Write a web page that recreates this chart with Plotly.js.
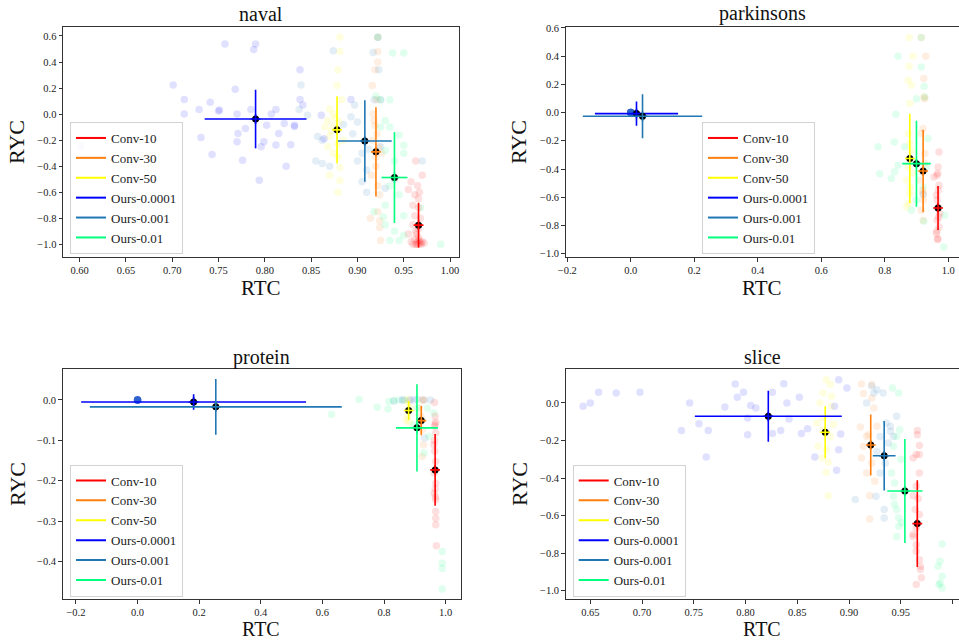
<!DOCTYPE html>
<html><head><meta charset="utf-8">
<script src="https://cdn.plot.ly/plotly-3.0.1.min.js"></script>
<style>html,body{margin:0;padding:0;background:#fff}#chart{width:959px;height:641px}</style>
</head><body><div id="chart"></div>
<script>
const methods = ['Conv-10','Conv-30','Conv-50','Ours-0.0001','Ours-0.001','Ours-0.01'];
const datasets = ['naval','parkinsons','protein','slice'];
const xTitle = 'RTC', yTitle = 'RYC';

// ---------- naval ----------
const navalMeanRTC = [0.966, 0.920, 0.878, 0.790, 0.908, 0.940];
const navalMeanRYC = [-0.853, -0.290, -0.121, -0.038, -0.207, -0.487];
const navalStdRTC  = [0.002, 0.002, 0.002, 0.055, 0.029, 0.014];
const navalStdRYC  = [0.172, 0.343, 0.258, 0.225, 0.313, 0.349];
const navalConv10 = [[0.963,-0.36],[0.958,-0.52],[0.965,-0.55],[0.955,-0.58],[0.962,-0.62],[0.966,-0.65],[0.960,-0.70],[0.966,-0.72],[0.962,-0.78],[0.968,-0.80],[0.960,-0.85],[0.966,-0.88],[0.964,-0.92],[0.962,-0.96],[0.965,-0.98],[0.968,-0.99],[0.963,-1.0],[0.966,-1.0],[0.969,-1.0],[0.960,-1.0],[0.972,-0.99],[0.967,-0.97],[0.958,-0.98],[0.964,-1.0],[0.970,-0.98],[0.966,-0.95],[0.963,-0.90],[0.967,-0.60],[0.955,-0.92],[0.970,-0.47]];
const navalConv30 = [[0.922,0.59],[0.922,0.48],[0.922,0.40],[0.919,0.34],[0.916,0.22],[0.921,0.11],[0.917,0.0],[0.919,-0.09],[0.916,-0.20],[0.920,-0.33],[0.915,-0.47],[0.924,-0.62],[0.922,-0.75],[0.914,-0.80],[0.924,-0.87],[0.925,-0.97],[0.924,-0.82],[0.921,-0.15],[0.918,-0.05],[0.923,-0.25],[0.920,-0.40],[0.922,-0.55],[0.926,-0.30]];
const navalConv50 = [[0.881,0.59],[0.881,0.48],[0.879,0.34],[0.878,0.22],[0.883,0.11],[0.870,0.04],[0.874,0.0],[0.868,-0.05],[0.874,-0.09],[0.865,-0.10],[0.870,-0.17],[0.868,-0.25],[0.874,-0.30],[0.879,-0.33],[0.881,-0.41],[0.881,-0.51],[0.879,-0.60],[0.870,-0.47],[0.878,-0.23],[0.876,-0.03],[0.885,-0.20],[0.872,-0.13],[0.880,-0.06]];
const navalOurs0001 = [[0.701,0.223],[0.713,0.113],[0.713,0.0],[0.729,0.036],[0.731,-0.179],[0.741,0.092],[0.743,-0.310],[0.750,0.023],[0.751,0.031],[0.757,0.538],[0.768,0.190],[0.770,0.0],[0.770,-0.213],[0.771,-0.149],[0.776,-0.354],[0.779,-0.110],[0.785,0.036],[0.788,0.497],[0.790,0.538],[0.794,-0.508],[0.796,-0.251],[0.799,-0.213],[0.802,-0.085],[0.807,0.0],[0.812,0.036],[0.815,-0.149],[0.812,-0.238],[0.821,-0.072],[0.823,-0.400],[0.828,-0.236],[0.832,-0.085],[0.838,0.341],[0.838,0.113],[0.841,0.069],[0.864,-0.190],[0.861,-0.008],[0.893,0.113],[0.601,-0.246],[0.832,-0.095]];
const navalOurs001 = [[0.922,0.59],[0.874,0.487],[0.917,0.474],[0.923,0.341],[0.839,0.223],[0.837,0.036],[0.846,-0.008],[0.857,-0.172],[0.862,-0.200],[0.855,-0.36],[0.862,-0.38],[0.870,-0.40],[0.885,-0.08],[0.893,-0.02],[0.900,-0.06],[0.895,-0.15],[0.905,-0.30],[0.900,-0.36],[0.910,-0.43],[0.905,-0.52],[0.910,-0.60],[0.930,-0.57],[0.925,-0.25],[0.918,0.11],[0.925,0.11],[0.940,-0.50],[0.970,-0.36],[0.912,-0.27],[0.897,0.07]];
const navalOurs01 = [[0.922,0.59],[0.938,0.47],[0.950,0.47],[0.920,0.14],[0.935,0.11],[0.925,0.11],[0.930,-0.05],[0.935,-0.10],[0.945,-0.16],[0.950,-0.24],[0.930,-0.28],[0.940,-0.36],[0.935,-0.55],[0.945,-0.62],[0.930,-0.70],[0.950,-0.78],[0.930,-0.85],[0.940,-0.90],[0.950,-0.93],[0.935,-0.97],[0.945,-0.97],[0.990,-1.0],[0.968,-0.72],[0.925,-0.10],[0.950,-0.30],[0.928,-0.79],[0.918,-0.75]];

// ---------- parkinsons ----------
const parkMeanRTC = [0.968, 0.921, 0.879, 0.018, 0.037, 0.900];
const parkMeanRYC = [-0.676, -0.414, -0.326, -0.007, -0.026, -0.362];
const parkStdRTC  = [0.002, 0.002, 0.002, 0.131, 0.188, 0.045];
const parkStdRYC  = [0.156, 0.292, 0.317, 0.086, 0.156, 0.305];
const parkConv10 = [[0.971,-0.28],[0.968,-0.385],[0.965,-0.444],[0.971,-0.515],[0.963,-0.586],[0.968,-0.669],[0.965,-0.764],[0.971,-0.811],[0.963,-0.858],[0.968,-0.894],[0.955,-0.456],[0.973,-0.716],[0.966,-0.62],[0.970,-0.74],[0.964,-0.84],[0.969,-0.55],[0.966,-0.90],[0.967,-0.43]];
const parkConv30 = [[0.915,0.532],[0.929,0.40],[0.923,0.241],[0.926,0.099],[0.921,-0.113],[0.915,-0.149],[0.926,-0.29],[0.910,-0.48],[0.921,-0.574],[0.915,-0.693],[0.921,-0.764],[0.926,-0.36],[0.920,-0.55],[0.922,-0.62],[0.924,0.11],[0.918,-0.42]];
const parkConv50 = [[0.877,0.532],[0.889,0.40],[0.877,0.329],[0.874,0.229],[0.884,0.194],[0.879,0.064],[0.874,-0.149],[0.879,-0.22],[0.874,-0.385],[0.869,-0.48],[0.879,-0.574],[0.874,-0.645],[0.869,-0.67],[0.884,-0.267],[0.889,-0.43],[0.880,-0.53]];
const parkOurs0001 = [[0,0],[0,0],[0,0],[0,0],[0,0],[0,0],[0,0],[0,0],[0,0],[0,0]];
const parkOurs001 = [[0,0],[0,0],[0,0],[0,0],[0,0],[0,0],[0,0],[0,0],[0,0],[0,0],[0.921,-0.58]];
const parkOurs01 = [[0.842,0.40],[0.915,0.532],[0.915,0.324],[0.900,0.099],[0.924,0.187],[0.835,-0.012],[0.830,-0.208],[0.779,-0.243],[0.784,-0.433],[0.821,-0.468],[0.831,-0.42],[0.842,-0.373],[0.863,-0.243],[0.936,-0.184],[0.931,-0.385],[0.884,-0.693],[0.989,-0.728],[0.986,-0.953],[0.921,-0.527],[0.900,-0.62],[0.923,-0.77],[0.926,0.11]];

// ---------- protein ----------
const protMeanRTC = [0.966, 0.921, 0.880, 0.182, 0.254, 0.907];
const protMeanRYC = [-0.173, -0.051, -0.026, -0.005, -0.017, -0.069];
const protStdRTC  = [0.003, 0.003, 0.003, 0.365, 0.409, 0.068];
const protStdRYC  = [0.089, 0.036, 0.023, 0.019, 0.069, 0.108];
const protConv10 = [[0.964,-0.006],[0.966,-0.040],[0.968,-0.055],[0.964,-0.065],[0.968,-0.082],[0.962,-0.111],[0.965,-0.127],[0.968,-0.152],[0.963,-0.181],[0.968,-0.206],[0.963,-0.231],[0.968,-0.247],[0.968,-0.276],[0.968,-0.293],[0.968,-0.309],[0.970,-0.361],[0.966,-0.060],[0.964,-0.100],[0.966,-0.220],[0.967,-0.240]];
const protConv30 = [[0.924,0.0],[0.914,-0.020],[0.924,-0.074],[0.928,-0.111],[0.924,-0.140],[0.919,-0.040],[0.928,0.0]];
const protConv50 = [[0.870,0.0],[0.881,0.002],[0.876,-0.040],[0.881,-0.055],[0.886,-0.020],[0.878,-0.007],[0.872,-0.050]];
const protOurs0001 = [[0,0],[0,0],[0,0],[0,0],[0,0],[0,0],[0,0],[0,0],[0,0],[0.860,0.0],[0.885,0.0]];
const protOurs001 = [[0,0],[0,0],[0,0],[0,0],[0,0],[0,0],[0,0],[0,0],[0.908,0.002],[0.930,0.0],[0.951,0.0],[0.932,-0.094],[0.897,0.0],[0.832,-0.003]];
const protOurs01 = [[0.719,0.001],[0.630,-0.036],[0.778,-0.018],[0.813,-0.022],[0.816,-0.004],[0.832,-0.001],[0.849,0.0],[0.865,0.0],[0.941,-0.020],[0.962,-0.032],[0.930,-0.131],[0.946,-0.090],[0.919,-0.053],[0.897,-0.061],[0.989,-0.375],[0.989,-0.404],[0.989,-0.417],[0.989,-0.468],[0.908,-0.020]];

// ---------- slice ----------
const sliceMeanRTC = [0.966, 0.921, 0.877, 0.822, 0.934, 0.954];
const sliceMeanRYC = [-0.643, -0.224, -0.156, -0.071, -0.281, -0.469];
const sliceStdRTC  = [0.002, 0.003, 0.002, 0.071, 0.011, 0.017];
const sliceStdRYC  = [0.231, 0.163, 0.139, 0.136, 0.185, 0.277];
const sliceConv10 = [[0.966,-0.147],[0.966,-0.169],[0.968,-0.227],[0.965,-0.275],[0.968,-0.275],[0.968,-0.373],[0.962,-0.293],[0.965,-0.442],[0.962,-0.494],[0.967,-0.510],[0.964,-0.568],[0.968,-0.595],[0.965,-0.666],[0.962,-0.711],[0.965,-0.755],[0.968,-0.835],[0.969,-0.870],[0.969,-0.888],[0.970,-0.932],[0.965,-0.968],[0.962,-0.700],[0.965,-0.790]];
const sliceConv30 = [[0.912,0.101],[0.914,0.050],[0.922,0.098],[0.911,-0.128],[0.917,-0.178],[0.914,-0.231],[0.912,-0.293],[0.922,-0.320],[0.917,-0.373],[0.925,-0.417],[0.920,-0.494],[0.920,-0.618],[0.919,-0.169],[0.927,-0.124],[0.924,-0.027],[0.922,0.027]];
const sliceConv50 = [[0.878,0.124],[0.882,0.098],[0.883,0.036],[0.875,0.053],[0.872,0.0],[0.883,-0.018],[0.869,-0.107],[0.875,-0.142],[0.882,-0.178],[0.870,-0.231],[0.878,-0.249],[0.874,-0.293],[0.880,-0.316],[0.878,-0.369],[0.880,-0.494],[0.875,-0.080],[0.885,-0.115]];
const sliceOurs0001 = [[0.643,-0.018],[0.650,0.0],[0.658,0.057],[0.675,0.053],[0.698,0.057],[0.738,-0.147],[0.746,0.0],[0.755,-0.110],[0.764,-0.147],[0.762,-0.288],[0.780,-0.021],[0.790,0.101],[0.792,0.030],[0.798,0.057],[0.802,-0.080],[0.802,-0.169],[0.805,-0.014],[0.810,-0.027],[0.826,0.057],[0.826,-0.163],[0.834,-0.147],[0.837,0.103],[0.840,0.0],[0.842,-0.085],[0.852,0.030],[0.854,-0.163],[0.860,-0.137],[0.867,-0.288],[0.886,-0.018],[0.890,0.124],[0.890,-0.249],[0.892,-0.165],[0.898,0.080],[0.888,-0.359]];
const sliceOurs001 = [[0.924,0.053],[0.927,0.071],[0.933,0.053],[0.917,0.0],[0.946,-0.071],[0.940,-0.124],[0.930,-0.178],[0.938,-0.213],[0.927,-0.258],[0.935,-0.320],[0.930,-0.373],[0.926,-0.497],[0.906,-0.515],[0.934,-0.568],[0.934,-0.613],[0.943,-0.178],[0.936,-0.107],[0.922,0.090],[0.940,-0.150]];
const sliceOurs01 = [[0.942,0.080],[0.948,0.053],[0.949,-0.142],[0.946,-0.178],[0.943,-0.231],[0.941,-0.373],[0.944,-0.426],[0.943,-0.497],[0.946,-0.568],[0.948,-0.613],[0.948,-0.657],[0.946,-0.711],[0.951,-0.639],[0.990,-0.751],[0.988,-0.844],[0.986,-0.870],[0.990,-0.924],[0.988,-0.959],[0.990,-0.986],[0.987,-0.968],[0.950,-0.300],[0.944,-0.540]];

const colors = ['#ff0000','#ff7f0e','#ffff00','#0000ff','#1f77b4','#00ff7f'];
const FONT = 'Liberation Serif';

const panels = [
  {xa:'x',  ya:'y',  lg:'legend',  pts:[navalConv10,navalConv30,navalConv50,navalOurs0001,navalOurs001,navalOurs01], mx:navalMeanRTC, my:navalMeanRYC, ex:navalStdRTC, ey:navalStdRYC},
  {xa:'x2', ya:'y2', lg:'legend2', pts:[parkConv10,parkConv30,parkConv50,parkOurs0001,parkOurs001,parkOurs01], mx:parkMeanRTC, my:parkMeanRYC, ex:parkStdRTC, ey:parkStdRYC},
  {xa:'x3', ya:'y3', lg:'legend3', pts:[protConv10,protConv30,protConv50,protOurs0001,protOurs001,protOurs01], mx:protMeanRTC, my:protMeanRYC, ex:protStdRTC, ey:protStdRYC},
  {xa:'x4', ya:'y4', lg:'legend4', pts:[sliceConv10,sliceConv30,sliceConv50,sliceOurs0001,sliceOurs001,sliceOurs01], mx:sliceMeanRTC, my:sliceMeanRYC, ex:sliceStdRTC, ey:sliceStdRYC}
];

const traces = [];
panels.forEach(p => {
  p.pts.forEach((arr, i) => {
    traces.push({type:'scatter', mode:'markers', x:arr.map(d=>d[0]), y:arr.map(d=>d[1]),
      xaxis:p.xa, yaxis:p.ya, marker:{size:7.5, color:colors[i], opacity:0.12},
      showlegend:false, hoverinfo:'skip', cliponaxis:true});
  });
  methods.forEach((m, i) => {
    traces.push({type:'scatter', mode:'markers', x:[p.mx[i]], y:[p.my[i]], xaxis:p.xa, yaxis:p.ya,
      error_x:{type:'data', array:[p.ex[i]], visible:true, color:colors[i], thickness:1.6, width:0},
      error_y:{type:'data', array:[p.ey[i]], visible:true, color:colors[i], thickness:1.6, width:0},
      marker:{size:7, color:'#000'}, showlegend:false, hoverinfo:'skip'});
    traces.push({type:'scatter', mode:'markers', x:[p.mx[i]], y:[p.my[i]], xaxis:p.xa, yaxis:p.ya,
      marker:{symbol:'cross-thin-open', size:7, color:colors[i], line:{color:colors[i], width:1.6}},
      showlegend:false, hoverinfo:'skip'});
  });
  methods.forEach((m, i) => {
    traces.push({type:'scatter', mode:'lines', x:[null], y:[null], name:m, xaxis:p.xa, yaxis:p.ya,
      line:{color:colors[i], width:2}, legend:p.lg, showlegend:true, hoverinfo:'skip'});
  });
});

const W = 959, H = 641;
function ax(domain, range, tick0, dtick, fmt, anchor, mirror) {
  return {domain, range, tickmode:'linear', tick0, dtick, tickformat:fmt, anchor,
    showgrid:false, zeroline:false, showline:true, mirror:mirror, linecolor:'#333', linewidth:1,
    ticks:'outside', ticklen:3.5, tickwidth:1, tickcolor:'#333',
    tickfont:{family:FONT, size:10.5, color:'#222'}};
}
const dxL = [63/W, 459/W], dxL2 = [62.7/W, 460.7/W], dxR = [565.7/W, 1.0];
const dyT = [1-257/H, 1-27/H], dyB = [1-599/H, 1-369/H];

function lg(xp, yp) {
  return {x:xp/W, y:1-yp/H, xanchor:'left', yanchor:'top', bgcolor:'rgba(255,255,255,0.85)',
    bordercolor:'#d3d3d3', borderwidth:1, font:{family:FONT, size:13, color:'#222'},
    itemwidth:30, tracegroupgap:0};
}
function ann(text, xp, yp, size, angle, yanc) {
  return {text, x:xp/W, y:1-yp/H, xref:'paper', yref:'paper', showarrow:false, borderpad:0,
    xanchor:'center', yanchor:yanc||'middle', textangle:angle||0, font:{family:FONT, size, color:'#111'}};
}

const layout = {
  width:W, height:H, margin:{l:0, r:0, t:0, b:0}, paper_bgcolor:'#fff', plot_bgcolor:'#fff',
  font:{family:FONT, color:'#222'},
  hovermode:false, showlegend:true,
  xaxis:  ax(dxL,  [0.582, 1.0097], 0.6, 0.05, '.2f', 'y', true),
  yaxis:  ax(dyT,  [-1.0975, 0.669], 0, 0.2, '.1f', 'x', true),
  xaxis2: ax(dxR,  [-0.205, 1.034], 0, 0.2, '.1f', 'y2', true),
  yaxis2: ax(dyT,  [-1.024, 0.607], 0, 0.2, '.1f', 'x2', false),
  xaxis3: ax(dxL2, [-0.243, 1.049], 0, 0.2, '.1f', 'y3', true),
  yaxis3: ax(dyB,  [-0.4926, 0.0767], 0, 0.1, '.1f', 'x3', true),
  xaxis4: ax(dxR,  [0.6262, 1.0063], 0.65, 0.05, '.2f', 'y4', true),
  yaxis4: ax(dyB,  [-1.0448, 0.1812], 0, 0.2, '.1f', 'x4', false),
  legend:  lg(70, 122),
  legend2: lg(702, 122),
  legend3: lg(70, 464.5),
  legend4: lg(572.7, 464.5),
  annotations: [
    ann(datasets[0], 261, 14, 20), ann(datasets[1], 762, 14, 20),
    ann(datasets[2], 261, 357, 20), ann(datasets[3], 762, 357, 20),
    ann(xTitle, 261, 288, 21), ann(xTitle, 762, 288, 21),
    ann(xTitle, 261, 641, 20, 0, 'bottom'), ann(xTitle, 762, 641, 20, 0, 'bottom'),
    ann(yTitle, 17, 142, 22, -90), ann(yTitle, 519, 142, 22, -90),
    ann(yTitle, 17, 484, 22, -90), ann(yTitle, 519, 484, 22, -90)
  ]
};

Plotly.newPlot('chart', traces, layout, {displayModeBar:false, staticPlot:true});
</script></body></html>
